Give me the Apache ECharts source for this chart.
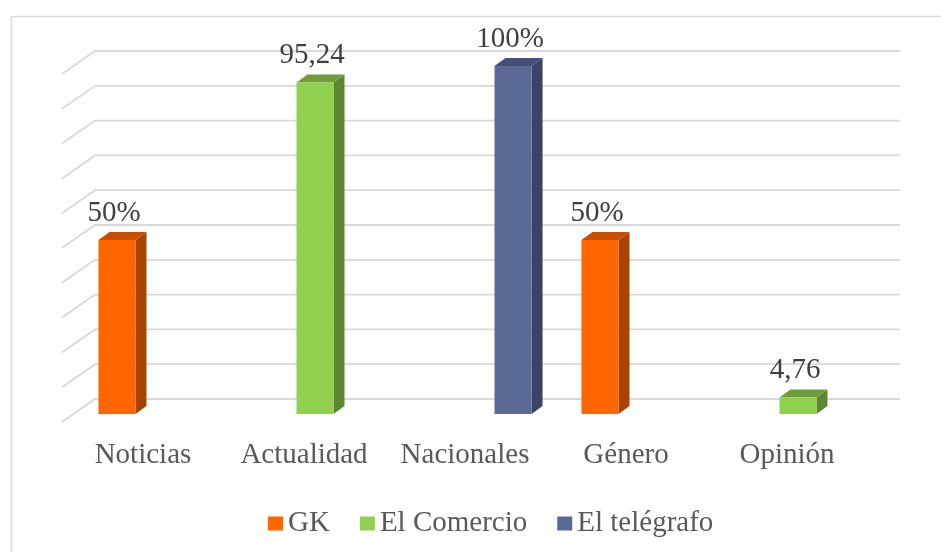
<!DOCTYPE html>
<html>
<head>
<meta charset="utf-8">
<script src="https://cdn.jsdelivr.net/npm/echarts@6/dist/echarts.min.js"></script>
<style>html,body{margin:0;padding:0;background:#fff}#c{width:941px;height:552px}</style>
</head>
<body>
<div id="c"></div>
<script>
var categories = ['Noticias', 'Actualidad', 'Nacionales', 'Género', 'Opinión'];
var seriesNames = ['GK', 'El Comercio', 'El telégrafo'];
var gkValues = [50, null, null, 50, null];
var comercioValues = [null, 95.24, null, null, 4.76];
var telegrafoValues = [null, null, 100, null, null];
var gkLabels = ['50%', '', '', '50%', ''];
var comercioLabels = ['', '95,24', '', '', '4,76'];
var telegrafoLabels = ['', '', '100%', '', ''];
var gridValues = [0, 10, 20, 30, 40, 50, 60, 70, 80, 90, 100];

var FONT = 'Liberation Serif, Times New Roman, serif';
var TXT = '#595959';

function barRender(slot, cFront, cTop, cSide, labels) {
  return function (params, api) {
    var v = api.value(1);
    if (v == null || isNaN(v) || v === 0) return;
    var base = api.coord([api.value(0), 0]);
    var top = api.coord([api.value(0), v]);
    var band = api.size([1, 0])[0];
    var w = band * 0.23;
    var cx = base[0] + slot * w;
    var x0 = cx - w / 2, x1 = cx + w / 2;
    var dx = 11, dy = -8;
    var yb = base[1], yt = top[1];
    var children = [
      { type: 'polygon', shape: { points: [[x1, yb], [x1 + dx, yb + dy], [x1 + dx, yt + dy], [x1, yt]] }, style: { fill: cSide } },
      { type: 'polygon', shape: { points: [[x0, yt], [x1, yt], [x1 + dx, yt + dy], [x0 + dx, yt + dy]] }, style: { fill: cTop } },
      { type: 'rect', shape: { x: x0, y: yt, width: w, height: yb - yt }, style: { fill: cFront } }
    ];
    var t = labels[params.dataIndex];
    if (t) {
      children.push({ type: 'text', style: { text: t, x: cx - 3, y: yt - 27, textAlign: 'center', textVerticalAlign: 'middle', fontSize: 29, fontFamily: FONT, fill: '#404040' } });
    }
    return { type: 'group', children: children };
  };
}

function toData(arr) { return arr.map(function (v, i) { return [i, v == null ? '-' : v]; }); }

var chart = echarts.init(document.getElementById('c'));
chart.setOption({
  backgroundColor: '#ffffff',
  animation: false,
  graphic: [{ type: 'rect', left: 9, top: 14, shape: { width: 1000, height: 1000 }, style: { fill: 'none', stroke: '#d9d9d9', lineWidth: 1.5 }, z: -10 }],
  legend: {
    data: seriesNames,
    left: 263, top: 504,
    icon: 'rect', itemWidth: 15, itemHeight: 14, itemGap: 30,
    textStyle: { fontSize: 29, fontFamily: FONT, color: TXT }
  },
  grid: { left: 73.5, right: 62.5, top: 66, bottom: 138 },
  xAxis: {
    type: 'category', data: categories,
    axisLine: { show: false }, axisTick: { show: false },
    axisLabel: { fontSize: 29, fontFamily: FONT, color: TXT, margin: 27, padding: [0, 22, 0, 0], interval: 0 }
  },
  yAxis: { type: 'value', min: 0, max: 100, interval: 10, show: false, splitLine: { show: false } },
  series: [
    {
      type: 'custom', name: '_grid', silent: true, z: 1,
      data: gridValues.map(function (v) { return [0, v]; }),
      encode: { x: 0, y: 1 },
      renderItem: function (params, api) {
        var cs = params.coordSys;
        var y = api.coord([0, api.value(1)])[1];
        var L = cs.x, R = cs.x + cs.width;
        return { type: 'polyline', shape: { points: [[L - 11.5, y + 8], [L + 21.5, y - 15], [R + 21.5, y - 15]] }, style: { stroke: '#d9d9d9', lineWidth: 1.8, fill: null } };
      }
    },
    { type: 'custom', name: 'GK', z: 2, itemStyle: { color: '#ff6600' }, data: toData(gkValues), encode: { x: 0, y: 1 }, renderItem: barRender(-1, '#ff6600', '#c54f00', '#a84300', gkLabels) },
    { type: 'custom', name: 'El Comercio', z: 2, itemStyle: { color: '#92d050' }, data: toData(comercioValues), encode: { x: 0, y: 1 }, renderItem: barRender(0, '#92d050', '#6e9e3c', '#5e8632', comercioLabels) },
    { type: 'custom', name: 'El telégrafo', z: 2, itemStyle: { color: '#5b6996' }, data: toData(telegrafoValues), encode: { x: 0, y: 1 }, renderItem: barRender(1, '#5b6996', '#44507a', '#3a4466', telegrafoLabels) }
  ]
});
</script>
</body>
</html>
